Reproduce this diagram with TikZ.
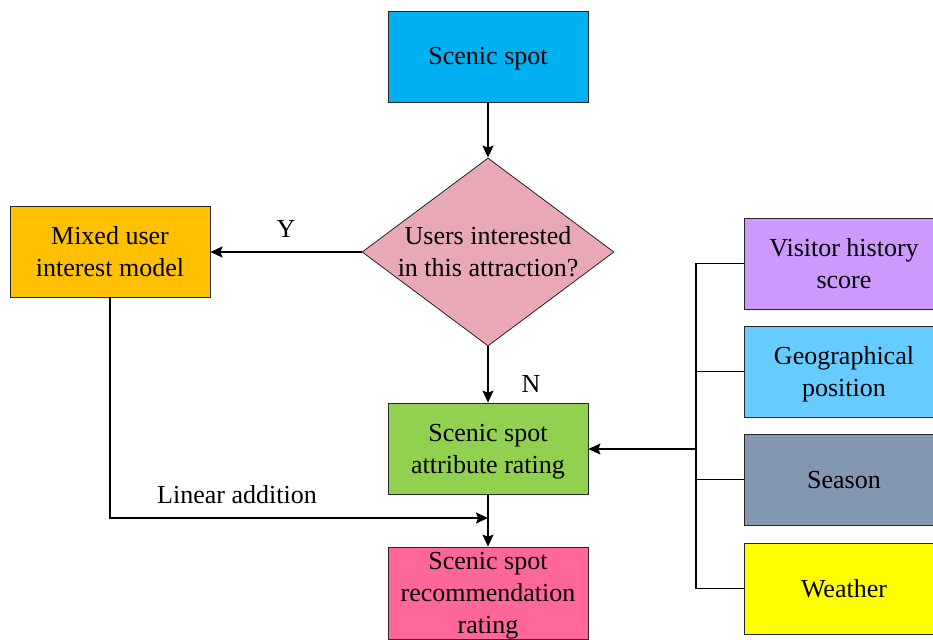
\documentclass[tikz,border=0pt]{standalone}
\usepackage{fontspec}
\setmainfont{Liberation Serif}
\usetikzlibrary{shapes.geometric,arrows.meta}
\definecolor{cscenic}{HTML}{00B0F0}
\definecolor{cdiam}{HTML}{E8A8B5}
\definecolor{cmixed}{HTML}{FFC000}
\definecolor{cgreen}{HTML}{92D050}
\definecolor{cpink}{HTML}{FF6699}
\definecolor{cvisit}{HTML}{CC99FF}
\definecolor{cgeo}{HTML}{66CCFF}
\definecolor{cseason}{HTML}{8497B0}
\definecolor{cweather}{HTML}{FFFF00}
\newcommand\ms{\rule[-7.5pt]{0pt}{32pt}}
\tikzset{
  txt/.style={align=center, font=\fontsize{26}{32}\selectfont},
  box/.style={txt, draw=black!85, line width=0.8pt, minimum width=200pt, minimum height=91pt,
    inner sep=2pt},
  lbl/.style={font=\fontsize{26}{32}\selectfont, inner sep=0pt},
  conn/.style={line width=1.3pt, black},
  arr/.style={conn, -{Stealth[length=12pt,width=11pt,inset=2pt]}}
}
\begin{document}
\begin{tikzpicture}[x=1pt,y=-1pt]
\useasboundingbox (0,0) rectangle (933,639);
\node[box, fill=cscenic] (scenic) at (488,56.5) {\ms Scenic spot};
\node[txt, draw=black!85, line width=0.8pt, shape=diamond, fill=cdiam, aspect=1.34,
  minimum width=252pt, minimum height=188pt, inner sep=-20pt] (dec) at (488,252)
  {\ms Users interested\\\ms in this attraction?};
\node[box, fill=cmixed] (mixed) at (110,251.5) {\ms Mixed user\\\ms interest model};
\node[box, fill=cgreen] (attr) at (488,448.5) {\ms Scenic spot\\\ms attribute rating};
\node[box, fill=cpink, minimum height=92pt, inner ysep=-4pt] (rec) at (488,593)
  {\ms Scenic spot\\\ms recommendation\\\ms rating};
\node[box, fill=cvisit] (visit) at (844,263.5) {\ms Visitor history\\\ms score};
\node[box, fill=cgeo] (geo) at (844,371.5) {\ms Geographical\\\ms position};
\node[box, fill=cseason] (season) at (844,479.5) {\ms Season};
\node[box, fill=cweather] (weather) at (844,588.5) {\ms Weather};
\node[lbl] (ylab) at (286,229) {Y};
\node[lbl] (nlab) at (531,384) {N};
\node[lbl] (linlab) at (237,495) {Linear addition};
\coordinate (bustop) at (696,263.5);
\coordinate (busbot) at (696,588.5);
\coordinate (busmid) at (696,449);
\coordinate (join) at (488,518);
\draw[arr] (scenic) -- (dec.north);
\draw[arr] (dec.west) -- (mixed.east |- dec.west);
\draw[arr] (dec.south) -- (attr.north);
\draw[conn] (visit.west) -- (bustop) -- (busbot) -- (weather.west);
\draw[conn] (geo.west) -- (geo.west -| bustop);
\draw[conn] (season.west) -- (season.west -| bustop);
\draw[arr] (busmid) -- (attr.east |- busmid);
\draw[arr] (mixed.south) |- (join);
\draw[arr] (attr.south) -- (rec.north);
\end{tikzpicture}
\end{document}
